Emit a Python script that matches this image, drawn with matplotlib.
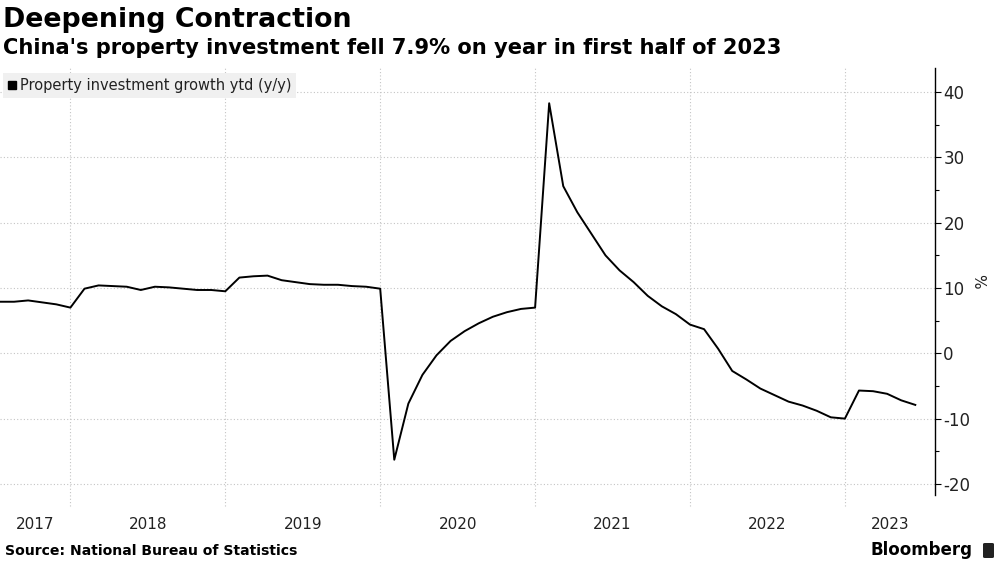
# property investment growth chart (Bloomberg style)
import numpy as np
import matplotlib
matplotlib.use('Agg')
import matplotlib.pyplot as plt
from matplotlib.lines import Line2D
from matplotlib.patches import FancyBboxPatch

# data: ytd y/y growth, China reports Jan-Feb combined so no January point
months = (['2017-07', '2017-08', '2017-09', '2017-10', '2017-11', '2017-12']
          + ['2018-%02d' % m for m in range(2, 13)]
          + ['2019-%02d' % m for m in range(2, 13)]
          + ['2020-%02d' % m for m in range(2, 13)]
          + ['2021-%02d' % m for m in range(2, 13)]
          + ['2022-%02d' % m for m in range(2, 13)]
          + ['2023-%02d' % m for m in range(2, 7)])

growth_2017 = [7.9, 7.9, 8.1, 7.8, 7.5, 7.0]
growth_2018 = [9.9, 10.4, 10.3, 10.2, 9.7, 10.2, 10.1, 9.9, 9.7, 9.7, 9.5]
growth_2019 = [11.6, 11.8, 11.9, 11.2, 10.9, 10.6, 10.5, 10.5, 10.3, 10.2, 9.9]
growth_2020 = [-16.3, -7.7, -3.3, -0.3, 1.9, 3.4, 4.6, 5.6, 6.3, 6.8, 7.0]
growth_2021 = [38.3, 25.6, 21.6, 18.3, 15.0, 12.7, 10.9, 8.8, 7.2, 6.0, 4.4]
growth_2022 = [3.7, 0.7, -2.7, -4.0, -5.4, -6.4, -7.4, -8.0, -8.8, -9.8, -10.0]
growth_2023 = [-5.7, -5.8, -6.2, -7.2, -7.9]

growth = (growth_2017 + growth_2018 + growth_2019 + growth_2020
          + growth_2021 + growth_2022 + growth_2023)

years = ['2017', '2018', '2019', '2020', '2021', '2022', '2023']
y_ticks = [-20, -10, 0, 10, 20, 30, 40]

title = 'Deepening Contraction'
subtitle = "China's property investment fell 7.9% on year in first half of 2023"
source = 'Source: National Bureau of Statistics'
legend_label = 'Property investment growth ytd (y/y)'


def main():
    plt.rcParams['font.family'] = ['DejaVu Sans']
    x = np.arange(len(months))
    x_max = 66.4

    fig = plt.figure(figsize=(10, 5.63), dpi=100)
    ax = fig.add_axes([0.0, 1 - 495 / 563, 0.935, (495 - 68) / 563])

    ax.plot(x, growth, color='black', linewidth=1.4, zorder=3)
    ax.set_xlim(0, x_max)
    ax.set_ylim(-21.7, 43.7)

    # year boundaries sit on the December points
    dec_idx = [i for i, m in enumerate(months) if m.endswith('-12')]
    for d in dec_idx:
        ax.axvline(d, ymin=-0.025, ymax=1, color='#c4c4c4', linestyle=(0, (1, 2)),
                   linewidth=0.8, clip_on=False, zorder=1)
    for t in y_ticks:
        ax.axhline(t, color='#c4c4c4', linestyle=(0, (1, 2)), linewidth=0.8, zorder=1)

    # year labels centred in each year's span
    bounds = [0] + dec_idx + [x_max]
    label_pos = [(bounds[i] + bounds[i + 1]) / 2 for i in range(len(years))]
    ax.set_xticks(label_pos)
    ax.set_xticklabels(years)
    ax.tick_params(axis='x', length=0, pad=16, labelsize=11, labelcolor='#222222')

    ax.yaxis.tick_right()
    ax.set_yticks(y_ticks)
    ax.set_yticklabels([str(t) for t in y_ticks])
    ax.set_yticks(np.arange(-15, 40, 10), minor=True)
    ax.tick_params(axis='y', which='major', length=4, width=0.8, pad=2,
                   labelsize=12, labelcolor='#222222')
    ax.tick_params(axis='y', which='minor', length=3, width=0.8)
    ax.yaxis.set_label_position('right')
    ax.set_ylabel('%', rotation=270, fontsize=11, labelpad=11, color='#222222')

    for s in ['top', 'left', 'bottom']:
        ax.spines[s].set_visible(False)
    ax.spines['right'].set_linewidth(1.0)

    handle = Line2D([], [], marker='s', color='black', linestyle='none', markersize=6)
    leg = ax.legend([handle], [legend_label], loc='upper left',
                    bbox_to_anchor=(0.003, 0.988), frameon=True, fancybox=False,
                    facecolor='#f0f0f0', edgecolor='none', framealpha=1,
                    fontsize=10.5, handlelength=0.6, handletextpad=0.2,
                    borderpad=0.35, borderaxespad=0)
    for txt in leg.get_texts():
        txt.set_color('#222222')

    fig.text(0.003, 1 - 20 / 563, title, fontsize=19.3, fontweight='bold', va='center')
    fig.text(0.003, 1 - 48 / 563, subtitle, fontsize=15.1, fontweight='bold', va='center')
    fig.text(0.005, 1 - 551 / 563, source, fontsize=10.1, fontweight='bold', va='center')
    fig.text(0.973, 1 - 550 / 563, 'Bloomberg', fontsize=12, fontweight='bold',
             va='center', ha='right')
    logo = FancyBboxPatch((0.983, 1 - 558 / 563), 0.011, 15 / 563,
                          boxstyle='round,pad=0,rounding_size=0.002',
                          transform=fig.transFigure, facecolor='#222222',
                          edgecolor='none')
    fig.patches.append(logo)

    fig.savefig('out.png', dpi=100)


if __name__ == '__main__':
    main()
